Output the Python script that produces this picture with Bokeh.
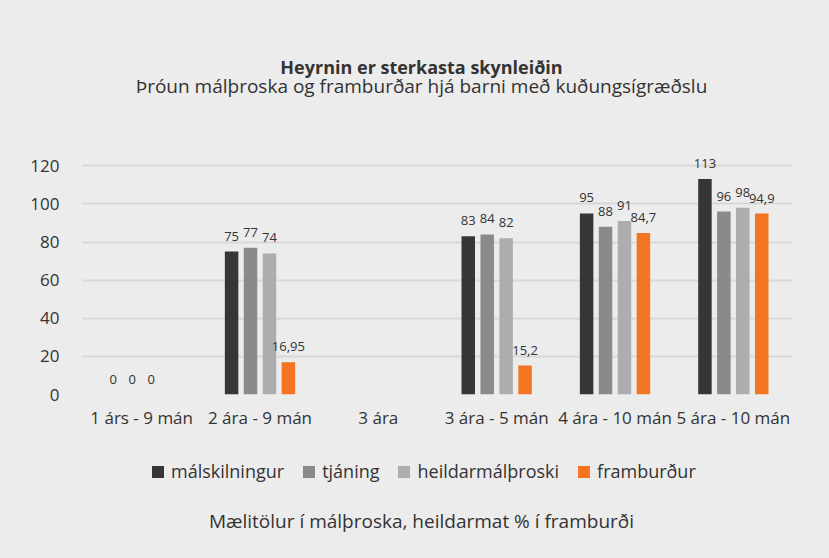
from bokeh.plotting import figure
from bokeh.layouts import column
from bokeh.models import ColumnDataSource, FixedTicker, Legend, LegendItem, Label
from bokeh.transform import dodge
from bokeh.core.properties import value
from bokeh.embed import file_html
from bokeh.resources import INLINE

# ---- data ----
categories = ["1 árs - 9 mán", "2 ára - 9 mán", "3 ára", "3 ára - 5 mán",
              "4 ára - 10 mán", "5 ára - 10 mán"]
series_names = ["málskilningur", "tjáning", "heildarmálþroski", "framburður"]
malskilningur = [0, 75, None, 83, 95, 113]
tjaning = [0, 77, None, 84, 88, 96]
heildarmalthroski = [0, 74, None, 82, 91, 98]
framburdur = [None, 16.95, None, 15.2, 84.7, 94.9]
y_ticks = [0, 20, 40, 60, 80, 100, 120]

title_text = "Heyrnin er sterkasta skynleiðin"
subtitle_text = "Þróun málþroska og framburðar hjá barni með kuðungsígræðslu"
footer_text = "Mælitölur í málþroska, heildarmat % í framburði"

# ---- style ----
colors = ["#363636", "#8a8a8a", "#adadad", "#f37521"]
offsets = [-0.24, -0.08, 0.08, 0.24]
bar_width = 0.114
bg = "#ececec"
txt = "#333333"
FONT = "Open Sans"
W = 829
LEFT, RIGHT = 82, 37
NAN = float("nan")


def panel(height):
    f = figure(width=W, height=height, x_range=(0, 1), y_range=(0, 1),
               x_axis_location=None, y_axis_location=None,
               min_border_left=LEFT, min_border_right=RIGHT,
               min_border_top=0, min_border_bottom=0,
               output_backend="svg", toolbar_location=None,
               background_fill_color=bg, border_fill_color=bg,
               outline_line_color=None)
    f.grid.visible = False
    return f


# ---- top: titles ----
p_top = panel(150)
p_top.add_layout(Label(x=339, y=84, x_units="screen", y_units="screen",
                       text=title_text, text_align="center",
                       text_baseline="alphabetic", text_font=FONT,
                       text_font_style="bold", text_font_size="18px",
                       text_color=txt))
p_top.add_layout(Label(x=339, y=65, x_units="screen", y_units="screen",
                       text=subtitle_text, text_align="center",
                       text_baseline="alphabetic", text_font=FONT,
                       text_font_size="19px", text_color=txt))

# ---- main chart ----
p = figure(x_range=categories, y_range=(0, 128), width=W, height=284,
           output_backend="svg", toolbar_location=None,
           min_border_left=LEFT, min_border_right=RIGHT, min_border_top=0,
           min_border_bottom=40, background_fill_color=bg,
           border_fill_color=bg, outline_line_color=None)


def fmt(v):
    return f"{v:g}".replace(".", ",")


for name, vals, col, off in zip(series_names,
                                [malskilningur, tjaning, heildarmalthroski, framburdur],
                                colors, offsets):
    cats = [c for c, v in zip(categories, vals) if v is not None]
    vv = [v for v in vals if v is not None]
    src = ColumnDataSource(dict(cat=cats, val=vv, lab=[fmt(v) for v in vv]))
    p.vbar(x=dodge("cat", off, range=p.x_range), top="val", width=bar_width,
           source=src, fill_color=col, line_color=None)
    p.text(x=dodge("cat", off, range=p.x_range), y="val", text="lab", source=src,
           y_offset=-11, text_align="center", text_baseline="bottom",
           text_font=value(FONT), text_font_size="13px", text_color=txt)

p.yaxis.ticker = FixedTicker(ticks=y_ticks)
for ax in (p.xaxis[0], p.yaxis[0]):
    ax.axis_line_color = None
    ax.major_tick_line_color = None
    ax.minor_tick_line_color = None
    ax.major_label_text_font = FONT
    ax.major_label_text_font_size = "17px"
    ax.major_label_text_color = txt
p.yaxis.major_label_standoff = 17
p.xaxis.major_label_standoff = 5
p.xgrid.grid_line_color = None
p.ygrid.grid_line_color = "#d8d8d8"
p.ygrid.grid_line_width = 2

# ---- bottom: legend + footer ----
p_bot = panel(124)
items = []
for name, col in zip(series_names, colors):
    # legend proxy: one NaN point so the swatch colour is defined, nothing drawn
    r = p_bot.vbar(x=[NAN], top=[NAN], width=1, fill_color=col, line_color=None)
    items.append(LegendItem(label=name, renderers=[r]))
legend = Legend(items=items, orientation="horizontal", location=(68, 75),
                glyph_width=15, glyph_height=15, label_standoff=6, spacing=17,
                padding=0, margin=0, border_line_color=None,
                background_fill_alpha=0, label_text_font=FONT,
                label_text_font_size="18px", label_text_color=txt)
p_bot.add_layout(legend)
p_bot.add_layout(Label(x=339, y=38, x_units="screen", y_units="screen",
                       text=footer_text, text_align="center",
                       text_baseline="alphabetic", text_font=FONT,
                       text_font_size="19px", text_color=txt))

layout = column(p_top, p, p_bot, spacing=0, styles={"background-color": bg})
open("out.html", "w").write(file_html(layout, INLINE))
